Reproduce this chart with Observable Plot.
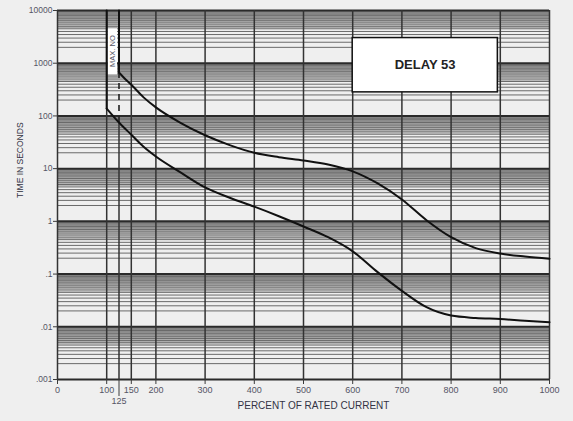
<!DOCTYPE html>
<html><head><meta charset="utf-8">
<script src="https://cdn.jsdelivr.net/npm/d3@7"></script>
<script src="https://cdn.jsdelivr.net/npm/@observablehq/plot@0.6"></script>
<style>
body{margin:0;background:#efefef;}
#chart svg{display:block;}
</style>
</head><body><div id="chart"></div>
<script>
// Tick values and labels
const yTickValues = [10000, 1000, 100, 10, 1, 0.1, 0.01, 0.001];
const yTickLabels = ["10000", "1000", "100", "10", "1", ".1", ".01", ".001"];
const xTickValues = [0, 100, 150, 200, 300, 400, 500, 600, 700, 800, 900, 1000];
const xExtraTick = [125];
const xGridValues = [0, 100, 125, 150, 200, 300, 400, 500, 600, 700, 800, 900, 1000];
const decades = [0.001, 0.01, 0.1, 1, 10, 100, 1000, 10000];
const minorMultipliers = [0.95, 0.9, 0.85, 0.8, 0.75, 0.7, 0.65, 0.6, 0.55, 0.5, 0.45, 0.4, 0.35, 0.3, 0.25, 0.2];
const fineMultipliers = [0.975, 0.925, 0.875, 0.825, 0.775, 0.725, 0.675, 0.625, 0.575, 0.525, 0.475];

// Curves (percent of rated current, seconds)
const upperX = [125, 125, 135, 150, 175, 200, 250, 300, 350, 400, 450, 500, 550, 600, 650, 700, 750, 800, 850, 900, 950, 1000];
const upperY = [10000, 665, 530, 390, 225, 145, 74, 43, 28, 20, 16.5, 14.3, 12, 8.9, 5.3, 2.6, 1.05, 0.5, 0.31, 0.245, 0.215, 0.195];
const lowerX = [100, 100, 125, 150, 175, 200, 250, 300, 350, 400, 450, 500, 550, 600, 650, 700, 750, 800, 850, 900, 950, 1000];
const lowerY = [10000, 138, 75, 44, 26, 17, 8.5, 4.4, 2.8, 1.9, 1.25, 0.8, 0.5, 0.27, 0.11, 0.048, 0.0235, 0.0163, 0.0147, 0.014, 0.013, 0.0122];

const titleText = "DELAY 53";
const maxText = "MAX. NO";
const xTitle = "PERCENT OF RATED CURRENT";
const yTitle = "TIME IN SECONDS";

const upper = upperX.map((x, i) => ({x, y: upperY[i]}));
const lower = lowerX.map((x, i) => ({x, y: lowerY[i]}));
const minorGrid = decades.slice(1).flatMap(d => minorMultipliers.map(m => d * m));
const fineGrid = decades.slice(1).flatMap(d => fineMultipliers.map(m => d * m));

const plot = Plot.plot({
  width: 573, height: 421,
  marginLeft: 57, marginRight: 24, marginTop: 10, marginBottom: 42,
  style: {background: "transparent", fontFamily: "'Liberation Sans', Arial, sans-serif", color: "#3a3a3a"},
  x: {domain: [0, 1000]},
  y: {type: "log", domain: [0.001, 10000]},
  marks: [
    Plot.ruleY(fineGrid, {stroke: "#aaa", strokeWidth: 1}),
    Plot.ruleY(minorGrid, {stroke: "#6a6a6a", strokeWidth: 1}),
    Plot.ruleY(decades, {stroke: "#2a2a2a", strokeWidth: 2}),
    Plot.ruleX(xGridValues.filter(v => v !== 125), {stroke: "#333", strokeWidth: 1.5}),
    Plot.ruleX(xExtraTick, {y1: 0.001, y2: lowerY[2], stroke: "#333", strokeWidth: 1.5}),
    Plot.ruleX(xExtraTick, {y1: lowerY[2], y2: upperY[1], stroke: "#222", strokeWidth: 1.6, strokeDasharray: "6,5"}),
    // MAX label background
    Plot.rect([0], {x1: 103, x2: 122, y1: 600, y2: 4500, fill: "white"}),
    Plot.text([maxText], {x: 112.5, y: 1700, text: d => d, rotate: -90, fontSize: 7.5, fill: "#556"}),
    // curves
    Plot.line(upper.slice(0, 2), {x: "x", y: "y", stroke: "#111", strokeWidth: 2}),
    Plot.line(upper.slice(1), {x: "x", y: "y", curve: "monotone-x", stroke: "#111", strokeWidth: 2}),
    Plot.line(lower.slice(0, 2), {x: "x", y: "y", stroke: "#111", strokeWidth: 2}),
    Plot.line(lower.slice(1), {x: "x", y: "y", curve: "monotone-x", stroke: "#111", strokeWidth: 2}),
    // title box
    Plot.rect([0], {x1: 600, x2: 895, y1: 280, y2: 3000, fill: "white", stroke: "#111", strokeWidth: 1.5}),
    Plot.text([titleText], {x: 747, y: 920, text: d => d, fontSize: 13, fontWeight: "bold", fill: "#222"}),
    // axes
    Plot.axisX(xTickValues, {tickSize: 5, tickPadding: 2, fontSize: 9, label: null, fill: "#556", tickFormat: d => String(d)}),
    Plot.axisX(xExtraTick, {tickSize: 17, tickPadding: 1, fontSize: 9, label: null, fill: "#556", tickFormat: d => String(d)}),
    Plot.axisY(yTickValues, {tickSize: 4, tickPadding: 1, fontSize: 8.5, label: null, fill: "#556",
      tickFormat: d => yTickLabels[yTickValues.indexOf(d)]}),
    Plot.text([xTitle], {frameAnchor: "bottom", dx: 10, dy: 29, text: d => d, fontSize: 10, fill: "#334"}),
    Plot.text([yTitle], {frameAnchor: "left", dx: -37, dy: 3, rotate: -90, text: d => d, fontSize: 8.5, fill: "#334"})
  ]
});
document.getElementById("chart").appendChild(plot);
</script>
</body></html>
